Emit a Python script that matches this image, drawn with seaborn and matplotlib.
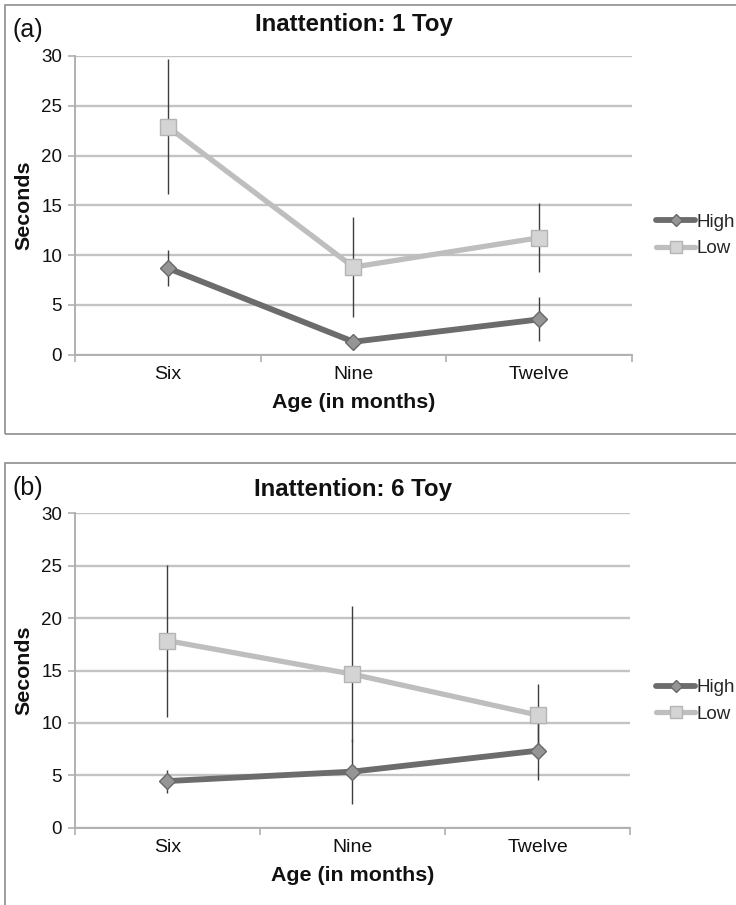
import numpy as np
import pandas as pd
import matplotlib
matplotlib.use("Agg")
import matplotlib.pyplot as plt
from matplotlib.lines import Line2D
from matplotlib.patches import Rectangle
import seaborn as sns

# ---------------- data ----------------
ages = ["Six", "Nine", "Twelve"]
groups = ["High", "Low"]

toy1_high = [8.7, 1.3, 3.55]
toy1_high_err = [1.8, 0.6, 2.2]
toy1_low = [22.9, 8.8, 11.75]
toy1_low_err = [6.75, 5.05, 3.45]

toy6_high = [4.45, 5.35, 7.35]
toy6_high_err = [1.1, 3.1, 2.8]
toy6_low = [17.85, 14.65, 10.75]
toy6_low_err = [7.25, 6.5, 2.95]

panel_titles = ["Inattention: 1 Toy", "Inattention: 6 Toy"]
panel_tags = ["(a)", "(b)"]
y_ticks = [0, 5, 10, 15, 20, 25, 30]
x_label = "Age (in months)"
y_label = "Seconds"

# ---------------- style ----------------
sns.set_theme(style="white")
plt.rcParams["font.family"] = ["Liberation Sans", "DejaVu Sans"]

HIGH_LINE = "#6c6c6c"
HIGH_FACE = "#959595"
HIGH_EDGE = "#686868"
LOW_LINE = "#bebebe"
LOW_FACE = "#d4d4d4"
LOW_EDGE = "#b4b4b4"
ERR_COL = "#3e3e3e"
GRID_COL = "#c3c3c3"
AXIS_COL = "#b0b0b0"
FRAME_COL = "#8e8e8e"
TXT = "#111111"

W, H = 736, 905
fig = plt.figure(figsize=(W / 100, H / 100), dpi=100)
fig.patch.set_facecolor("white")


def fx(px):
    return px / W


def fy(py):
    return 1 - py / H


# pixel layouts: axes (left, top(y=30), right, bottom(y=0)), frame (left, top, bottom)
layouts = [
    dict(axes=(74.7, 56.0, 632.3, 354.7), frame=(5, 5, 434), tag_y=30, title_y=25,
         xlabel_y=402, legend_y=235.5),
    dict(axes=(74.7, 513.3, 630.3, 827.7), frame=(5, 463, 915), tag_y=488, title_y=489,
         xlabel_y=875, legend_y=701),
]

series = [
    (toy1_high, toy1_high_err, toy1_low, toy1_low_err),
    (toy6_high, toy6_high_err, toy6_low, toy6_low_err),
]

for i, lay in enumerate(layouts):
    high, high_err, low, low_err = series[i]
    l, t, r, b = lay["axes"]
    ax = fig.add_axes([fx(l), fy(b), (r - l) / W, (b - t) / H])
    ax.set_facecolor("none")

    # frame around the panel
    fl, ft, fb = lay["frame"]
    fig.add_artist(Rectangle((fx(fl), fy(fb)), (W + 20 - fl) / W, (fb - ft) / H,
                             transform=fig.transFigure, fill=False,
                             edgecolor=FRAME_COL, linewidth=1.2, clip_on=False))

    pos = np.arange(len(ages))
    df = pd.DataFrame({
        "pos": np.concatenate([pos, pos]),
        "Group": ["High"] * len(ages) + ["Low"] * len(ages),
        "Seconds": list(high) + list(low),
    })

    # error bars (behind the lines)
    ax.errorbar(pos, high, yerr=high_err, fmt="none", ecolor=ERR_COL,
                elinewidth=1.0, capsize=0, zorder=2)
    ax.errorbar(pos, low, yerr=low_err, fmt="none", ecolor=ERR_COL,
                elinewidth=1.0, capsize=0, zorder=2)

    sns.lineplot(data=df[df["Group"] == "High"], x="pos", y="Seconds",
                 color=HIGH_LINE, linewidth=4.2, marker="D", markersize=8.5,
                 markerfacecolor=HIGH_FACE, markeredgecolor=HIGH_EDGE,
                 markeredgewidth=1.0, errorbar=None, sort=False, ax=ax,
                 legend=False, zorder=3)
    sns.lineplot(data=df[df["Group"] == "Low"], x="pos", y="Seconds",
                 color=LOW_LINE, linewidth=3.8, marker="s", markersize=11.5,
                 markerfacecolor=LOW_FACE, markeredgecolor=LOW_EDGE,
                 markeredgewidth=1.0, errorbar=None, sort=False, ax=ax,
                 legend=False, zorder=4)

    ax.set_xlim(-0.5, len(ages) - 0.5)
    ax.set_ylim(0, 30)
    ax.set_yticks(y_ticks)
    ax.set_yticklabels([str(v) for v in y_ticks])
    ax.set_xticks(pos)
    ax.set_xticklabels(ages)
    ax.set_xticks(np.arange(-0.5, len(ages)), minor=True)

    ax.set_axisbelow(True)
    ax.yaxis.grid(True, color=GRID_COL, linewidth=1.7)
    ax.xaxis.grid(False)

    for s in ["top", "right"]:
        ax.spines[s].set_visible(False)
    for s in ["left", "bottom"]:
        ax.spines[s].set_color(AXIS_COL)
        ax.spines[s].set_linewidth(1.4)

    ax.tick_params(axis="x", which="major", length=0, pad=8, labelsize=14, labelcolor=TXT)
    ax.tick_params(axis="x", which="minor", length=5, width=1.2, color=AXIS_COL, bottom=True)
    ax.tick_params(axis="y", which="major", length=5, width=1.2, color=AXIS_COL,
                   pad=4, labelsize=13.5, labelcolor=TXT, left=True)

    ax.set_xlabel("")
    ax.set_ylabel("")

    # texts
    fig.text(fx(13), fy(lay["tag_y"]), panel_tags[i], fontsize=18, ha="left",
             va="center", color=TXT)
    fig.text(fx((l + r) / 2), fy(lay["title_y"]), panel_titles[i], fontsize=17.3,
             fontweight="bold", ha="center", va="center", color=TXT)
    fig.text(fx((l + r) / 2), fy(lay["xlabel_y"]), x_label, fontsize=15.4,
             fontweight="bold", ha="center", va="center", color=TXT)
    fig.text(fx(24), fy((t + b) / 2), y_label, fontsize=15.4, fontweight="bold",
             ha="center", va="center", rotation=90, color=TXT)

    handles = [
        Line2D([], [], color=HIGH_LINE, linewidth=4.2, marker="D", markersize=6,
               markerfacecolor=HIGH_FACE, markeredgecolor=HIGH_EDGE),
        Line2D([], [], color=LOW_LINE, linewidth=3.8, marker="s", markersize=8,
               markerfacecolor=LOW_FACE, markeredgecolor=LOW_EDGE),
    ]
    ax.legend(handles, groups, loc="center left",
              bbox_to_anchor=(fx(656), fy(lay["legend_y"])),
              bbox_transform=fig.transFigure, frameon=False, fontsize=13.5,
              handlelength=2.1, handletextpad=0.05, labelspacing=0.5,
              borderaxespad=0, borderpad=0)

fig.savefig("out.png", dpi=100, facecolor="white")
